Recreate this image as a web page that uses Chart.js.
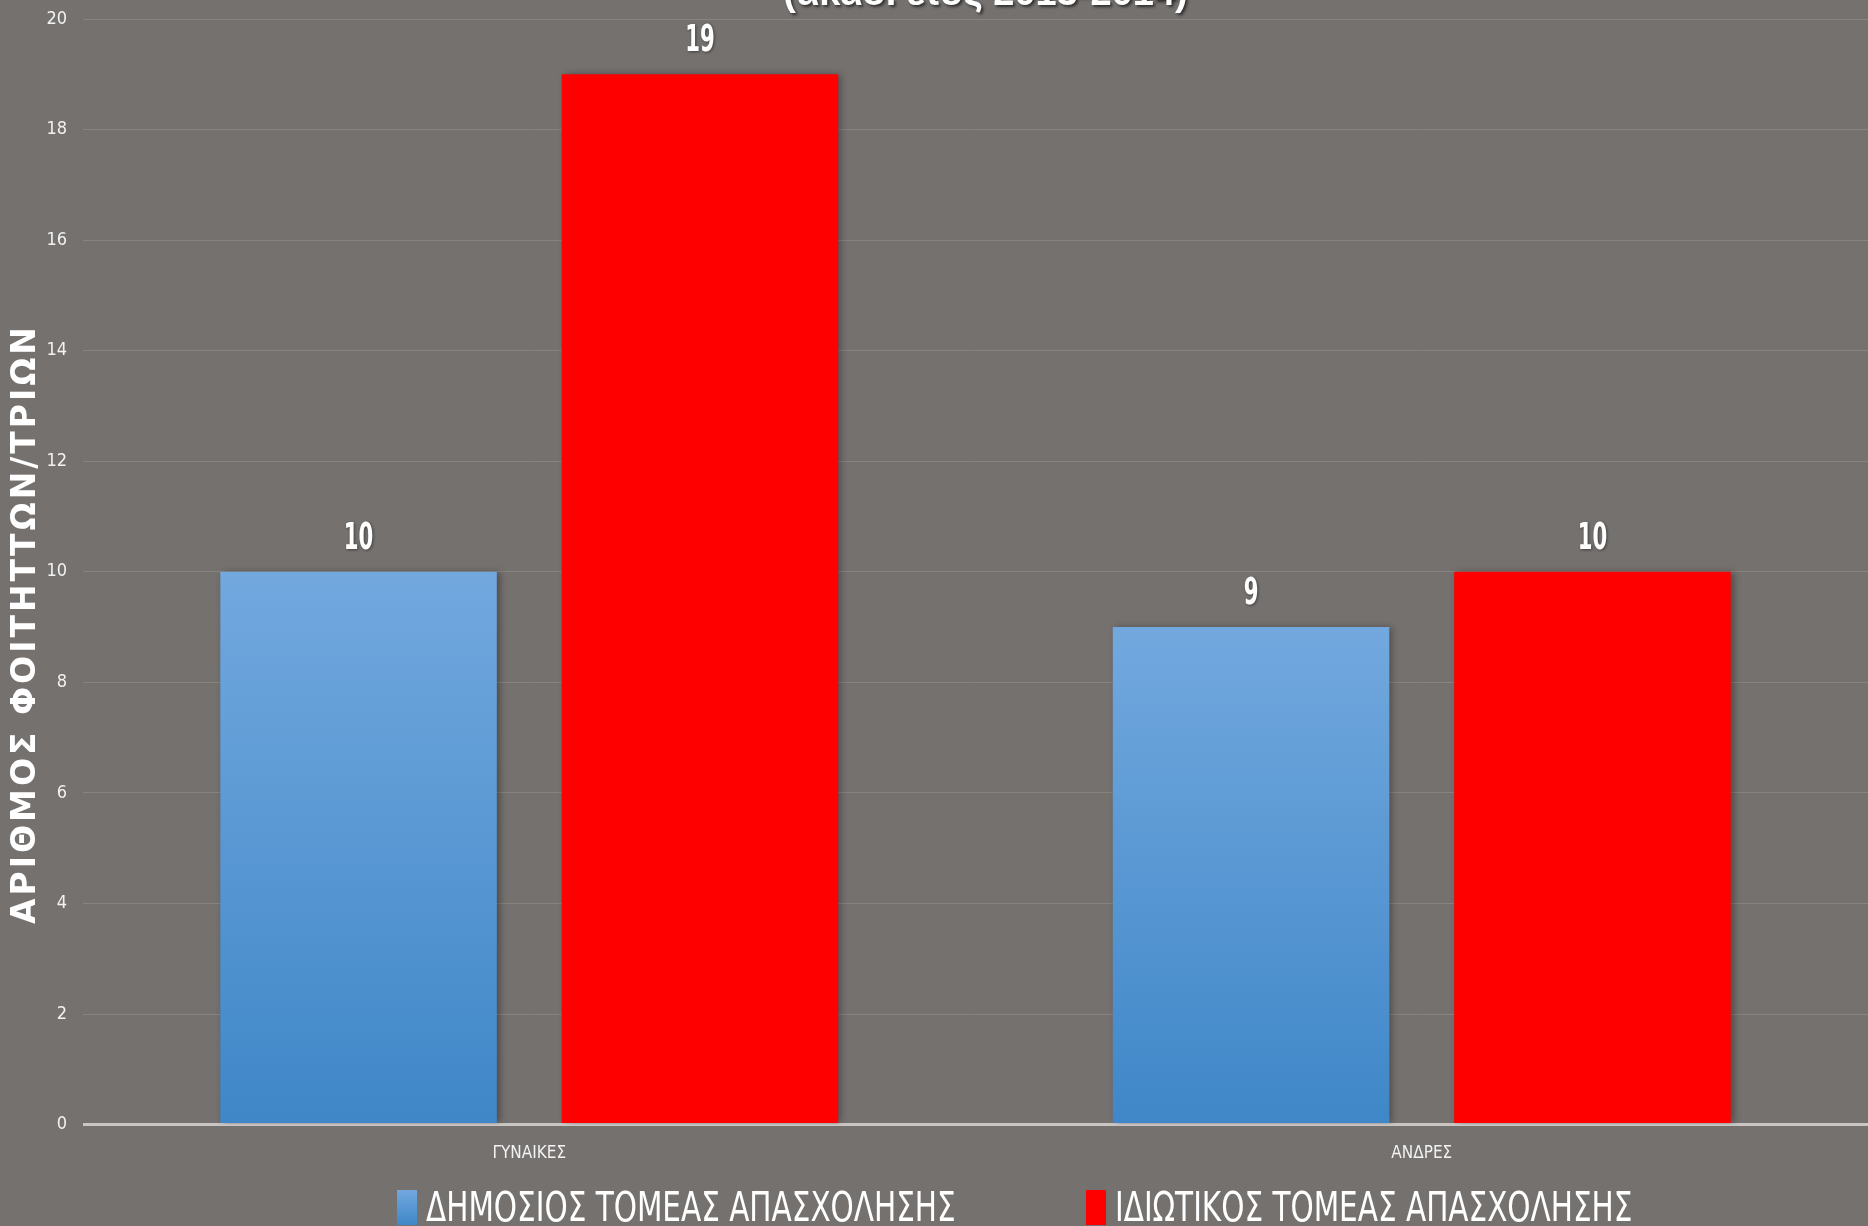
<!DOCTYPE html>
<html lang="el">
<head>
<meta charset="utf-8">
<title>Απασχόληση φοιτητών</title>
<script src="https://cdn.jsdelivr.net/npm/chart.js@4.4.0/dist/chart.umd.min.js"></script>
<style>
    html, body {
        margin: 0;
        padding: 0;
        background: #75716f;
        overflow: hidden;
    }
    #wrap {
        position: relative;
        width: 1868px;
        height: 1226px;
        overflow: hidden;
    }
    #chart {
        position: absolute;
        left: 0;
        top: 0;
    }
    #legend {
        position: absolute;
        left: 0;
        top: 1187px;
        width: 1868px;
        font-family: "DejaVu Sans Condensed", sans-serif;
        font-size: 40px;
        line-height: 1;
        color: #ffffff;
        white-space: nowrap;
    }
    #legend .item {
        position: absolute;
        top: 0;
        display: flex;
        align-items: center;
    }
    #legend .box {
        display: inline-block;
        width: 20px;
        height: 35px;
        margin-right: 9px;
    }
    #legend .txt {
        display: inline-block;
        transform: scaleX(0.82);
        transform-origin: left center;
    }
</style>
</head>
<body>
<div id="wrap">
    <canvas id="chart" width="1868" height="1226"></canvas>
    <div id="legend"></div>
</div>
<script>
/* ===================================================
   DATOS
=================================================== */

const categories = ["ΓΥΝΑΙΚΕΣ", "ΑΝΔΡΕΣ"];
const seriesNames = ["ΔΗΜΟΣΙΟΣ ΤΟΜΕΑΣ ΑΠΑΣΧΟΛΗΣΗΣ", "ΙΔΙΩΤΙΚΟΣ ΤΟΜΕΑΣ ΑΠΑΣΧΟΛΗΣΗΣ"];
const publicSector = [10, 9];
const privateSector = [19, 10];
const yMin = 0;
const yMax = 20;
const yStep = 2;
const chartTitle = "(ακαδ. έτος 2013-2014)";
const yAxisTitle = "ΑΡΙΘΜΟΣ ΦΟΙΤΗΤΤΩΝ/ΤΡΙΩΝ";

/* ===================================================
   ESTILOS
=================================================== */

const NARROW = '"DejaVu Sans Condensed", sans-serif';
const BLUE_TOP = "#72a8de";
const BLUE_BOTTOM = "#3f87c8";
const RED = "#ff0000";
const legendSwatches = ["linear-gradient(" + BLUE_TOP + ", " + BLUE_BOTTOM + ")", RED];
const legendLeft = [397, 1086];

/**
 * Degradado vertical para cada barra azul (de su tope a cero)
 */
function blueGradient(context) {
    const chart = context.chart;
    if (!chart.chartArea || context.type !== "data") {
        return BLUE_BOTTOM;
    }
    const yScale = chart.scales.y;
    const top = yScale.getPixelForValue(context.raw);
    const bottom = yScale.getPixelForValue(0);
    const g = chart.ctx.createLinearGradient(0, top, 0, bottom);
    g.addColorStop(0, BLUE_TOP);
    g.addColorStop(1, BLUE_BOTTOM);
    return g;
}

/* ===================================================
   PLUGINS
=================================================== */

// sombra suave a la derecha de las barras
const barShadow = {
    id: "barShadow",
    beforeDatasetsDraw(chart) {
        const ctx = chart.ctx;
        ctx.save();
        ctx.shadowColor = "rgba(0, 0, 0, 0.35)";
        ctx.shadowBlur = 7;
        ctx.shadowOffsetX = 3;
        ctx.shadowOffsetY = 0;
    },
    afterDatasetsDraw(chart) {
        chart.ctx.restore();
    },
};

// valores encima de cada barra (texto estrecho, como en el original)
const valueLabels = {
    id: "valueLabels",
    afterDatasetsDraw(chart) {
        const ctx = chart.ctx;
        const squeeze = 0.62;
        ctx.save();
        ctx.scale(squeeze, 1);
        ctx.font = "bold 38px " + NARROW;
        ctx.fillStyle = "#ffffff";
        ctx.textAlign = "center";
        ctx.textBaseline = "alphabetic";
        ctx.shadowColor = "rgba(0, 0, 0, 0.45)";
        ctx.shadowBlur = 3;
        ctx.shadowOffsetX = 1;
        ctx.shadowOffsetY = 1;
        chart.data.datasets.forEach((ds, i) => {
            chart.getDatasetMeta(i).data.forEach((bar, j) => {
                ctx.fillText(String(ds.data[j]), bar.x / squeeze, bar.y - 23);
            });
        });
        ctx.restore();
    },
};

// título (cortado arriba) y título del eje vertical
const titles = {
    id: "titles",
    afterDraw(chart) {
        const ctx = chart.ctx;
        const area = chart.chartArea;
        ctx.save();
        ctx.fillStyle = "#ffffff";
        ctx.textAlign = "center";
        ctx.textBaseline = "alphabetic";
        ctx.shadowColor = "rgba(0, 0, 0, 0.6)";
        ctx.shadowBlur = 3;
        ctx.shadowOffsetX = 2;
        ctx.shadowOffsetY = 2;
        ctx.font = "bold 38px 'Liberation Sans', sans-serif";
        ctx.fillText(chartTitle, (area.left + area.right) / 2 + 10, 5);

        ctx.shadowColor = "transparent";
        ctx.translate(26, 624);
        ctx.rotate(-Math.PI / 2);
        ctx.textBaseline = "middle";
        ctx.font = "bold 33px 'DejaVu Sans', sans-serif";
        ctx.letterSpacing = "3px";
        ctx.fillText(yAxisTitle, 0, 0);
        ctx.restore();
    },
};

/* ===================================================
   GRÁFICO
=================================================== */

const chart = new Chart(document.getElementById("chart"), {
    type: "bar",
    data: {
        labels: categories,
        datasets: [
            {
                label: seriesNames[0],
                data: publicSector,
                backgroundColor: blueGradient,
                borderWidth: 0,
                categoryPercentage: 0.765,
                barPercentage: 0.81,
            },
            {
                label: seriesNames[1],
                data: privateSector,
                backgroundColor: RED,
                borderWidth: 0,
                categoryPercentage: 0.765,
                barPercentage: 0.81,
            },
        ],
    },
    options: {
        responsive: false,
        animation: false,
        layout: {
            padding: { top: 19, right: 0, bottom: 51, left: 0 },
        },
        plugins: {
            legend: { display: false },
            title: { display: false },
            tooltip: { enabled: false },
        },
        scales: {
            x: {
                grid: { display: false },
                border: { display: false },
                ticks: {
                    color: "#f2f2f2",
                    padding: 11,
                    font: { family: NARROW, size: 17 },
                },
            },
            y: {
                min: yMin,
                max: yMax,
                afterFit(scale) {
                    scale.width = 83;
                    // la etiqueta "20" puede sobresalir: no reservar espacio extra
                    scale.paddingTop = 0;
                    scale.paddingBottom = 0;
                },
                border: { display: false },
                grid: {
                    drawTicks: false,
                    color: (c) => (c.tick && c.tick.value === 0 ? "#c9c6c4" : "#87837f"),
                    lineWidth: (c) => (c.tick && c.tick.value === 0 ? 3 : 1),
                },
                ticks: {
                    stepSize: yStep,
                    color: "#f2f2f2",
                    padding: 16,
                    font: { family: NARROW, size: 18 },
                },
            },
        },
    },
    plugins: [barShadow, valueLabels, titles],
});

/* ===================================================
   LEYENDA HTML
=================================================== */

const legendEl = document.getElementById("legend");
chart.data.datasets.forEach((ds, i) => {
    const item = document.createElement("div");
    item.className = "item";
    item.style.left = legendLeft[i] + "px";
    const box = document.createElement("span");
    box.className = "box";
    box.style.background = legendSwatches[i];
    const text = document.createElement("span");
    text.className = "txt";
    text.textContent = ds.label;
    item.appendChild(box);
    item.appendChild(text);
    legendEl.appendChild(item);
});
</script>
</body>
</html>
